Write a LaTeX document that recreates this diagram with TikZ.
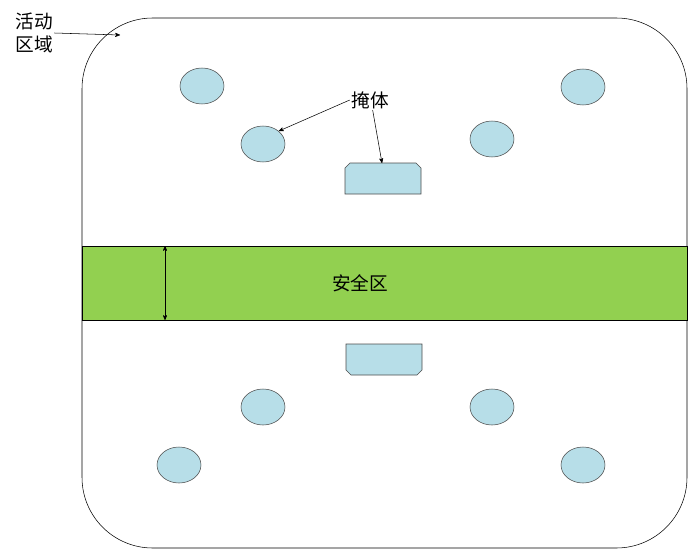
\documentclass[tikz,border=0pt]{standalone}
\usepackage{fontspec}
\newfontfamily\cjk{Noto Sans CJK SC}
\usetikzlibrary{arrows,positioning,shapes.geometric}
\definecolor{pitfill}{RGB}{183,222,232}
\definecolor{safegreen}{RGB}{146,208,80}

\begin{document}
\begin{tikzpicture}[x=0.75pt,y=-0.75pt,>=stealth',thin,
pitnode/.style={ellipse, draw=black!70, fill=pitfill, minimum width=33pt, minimum height=27pt, inner sep=0pt},
labelnode/.style={font=\cjk\fontsize{14}{17}\selectfont, inner sep=1pt},
coverbox/.style={draw=black!70, fill=pitfill},
]
\useasboundingbox (0,0) rectangle (688,549);

% arena
\draw[black, rounded corners=53pt] (82,18) rectangle (687,548);
\fill[safegreen] (82,246) rectangle (687,320);
\draw (82,246) rectangle (687,320);
\node[labelnode] (safe) at (360,283) {安全区};

\coordinate (wt) at (165,246);
\coordinate (wb) at (165,320);
\draw[<->] (wt) -- (wb);

% pits
\node[pitnode] (p1) at (202,86) {};
\node[pitnode] (p2) at (583,87) {};
\node[pitnode] (p3) at (263,144) {};
\node[pitnode] (p4) at (492,139) {};
\node[pitnode] (p5) at (263,407) {};
\node[pitnode] (p6) at (492,407) {};
\node[pitnode] (p7) at (179,465) {};
\node[pitnode] (p8) at (583,465) {};

% covers
\draw[coverbox] (345,194) -- (345,168) -- (350,163) -- (416,163) -- (421,168) -- (421,194) -- cycle;
\draw[coverbox] (346,344) -- (422,344) -- (422,370) -- (417,375) -- (351,375) -- (346,370) -- cycle;
\coordinate (c1) at (382,163);

% labels
\node[labelnode] (cover) at (370,100) {掩体};
\draw[->] (cover.west) -- (p3.north east);
\draw[->] ([xshift=2pt]cover.south) -- (c1);

\node[labelnode, align=center] (area) at (34,33) {活动\\区域};
\draw[->] (area.east) -- (120,35);

\end{tikzpicture}
\end{document}
